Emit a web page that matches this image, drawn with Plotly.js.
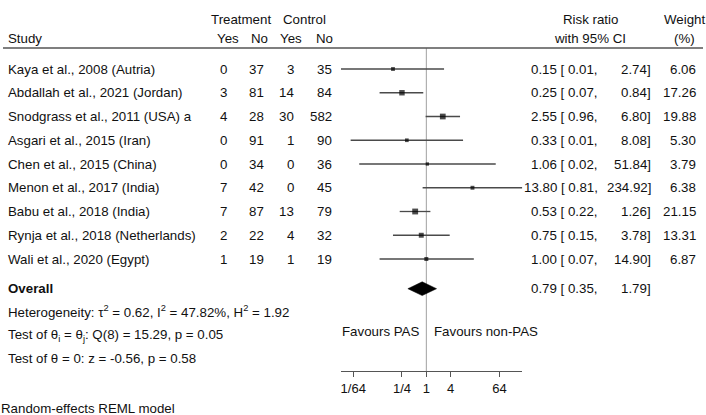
<!DOCTYPE html>
<html><head><meta charset="utf-8">
<script src="https://cdn.plot.ly/plotly-3.0.1.min.js"></script>
<style>html,body{margin:0;padding:0;background:#fff}</style>
</head><body><div id="chart" style="width:706px;height:415px"></div>
<script>
// ---- data ----
const studies = ["Kaya et al., 2008 (Autria)","Abdallah et al., 2021 (Jordan)","Snodgrass et al., 2011 (USA) a","Asgari et al., 2015 (Iran)","Chen et al., 2015 (China)","Menon et al., 2017 (India)","Babu et al., 2018 (India)","Rynja et al., 2018 (Netherlands)","Wali et al., 2020 (Egypt)"];
const tYes = [0,3,4,0,0,7,7,2,1];
const tNo  = [37,81,28,91,34,42,87,22,19];
const cYes = [3,14,30,1,0,0,13,4,1];
const cNo  = [35,84,582,90,36,45,79,32,19];
const rr   = [0.15,0.25,2.55,0.33,1.06,13.80,0.53,0.75,1.00];
const ciLo = [0.0078,0.07,0.96,0.0135,0.022,0.81,0.22,0.15,0.07];
const ciHi = [2.74,0.84,6.80,8.08,51.84,234.92,1.26,3.78,14.90];
const weight = [6.06,17.26,19.88,5.30,3.79,6.38,21.15,13.31,6.87];
const overallRR = 0.79, overallLo = 0.35, overallHi = 1.79;
const tickVals = [1/64,1/4,1,4,64];
const tickText = ["1/64","1/4","1","4","64"];
const hetText = "Heterogeneity: τ<sup>2</sup> = 0.62, I<sup>2</sup> = 47.82%, H<sup>2</sup> = 1.92";
const testQText = "Test of θ<sub>i</sub> = θ<sub>j</sub>: Q(8) = 15.29, p = 0.05";
const testZText = "Test of θ = 0: z = -0.56, p = 0.58";
const modelText = "Random-effects REML model";

// ---- layout helpers ----
const W = 706, H = 415;
const FONT = "Liberation Sans, Arial, sans-serif";
const FS = 13.3;
const TXT = "#111";
const n = studies.length;
const rows = studies.map((_, i) => i + 1);
const overallRow = n + 1.25;
const rowPx0 = 69, rowStep = 23.75, axisPx = 371;
const px2paperY = p => (H - p) / H;
const px2paperX = p => p / W;
const yTop = 1 - rowPx0 / rowStep;
const yBot = 1 + (axisPx - rowPx0) / rowStep;

const ann = [];
function txt(x, y, text, xanchor, yref, extra) {
  ann.push(Object.assign({x: px2paperX(x), xref: 'paper', y: y, yref: yref || 'y', text: text,
    showarrow: false, xanchor: xanchor, yanchor: 'middle',
    font: {family: FONT, size: FS, color: TXT}}, extra || {}));
}
// headers
txt(240.5, px2paperY(19.5), "Treatment", 'center', 'paper');
txt(304.5, px2paperY(19.5), "Control", 'center', 'paper');
txt(590, px2paperY(19.5), "Risk ratio", 'center', 'paper');
txt(684, px2paperY(19.5), "Weight", 'center', 'paper');
txt(6, px2paperY(38.5), "Study", 'left', 'paper');
txt(228, px2paperY(38.5), "Yes", 'center', 'paper');
txt(259.5, px2paperY(38.5), "No", 'center', 'paper');
txt(290.5, px2paperY(38.5), "Yes", 'center', 'paper');
txt(324, px2paperY(38.5), "No", 'center', 'paper');
txt(590, px2paperY(38.5), "with 95% CI", 'center', 'paper');
txt(684, px2paperY(38.5), "(%)", 'center', 'paper');
// study rows
studies.forEach((s, i) => {
  const r = rows[i];
  txt(6, r, s, 'left');
  txt(228.5, r, String(tYes[i]), 'right');
  txt(266, r, String(tNo[i]), 'right');
  txt(296, r, String(cYes[i]), 'right');
  txt(333.5, r, String(cNo[i]), 'right');
  txt(600, r, rr[i].toFixed(2) + " [ " + ciLo[i].toFixed(2) + ",", 'right');
  txt(652.7, r, ciHi[i].toFixed(2) + "]", 'right');
  txt(698.3, r, weight[i].toFixed(2), 'right');
});
// overall
txt(6, overallRow, "<b>Overall</b>", 'left');
txt(600, overallRow, overallRR.toFixed(2) + " [ " + overallLo.toFixed(2) + ",", 'right');
txt(652.7, overallRow, overallHi.toFixed(2) + "]", 'right');
txt(6, overallRow + 0.98, hetText, 'left');
txt(6, overallRow + 1.96, testQText, 'left');
txt(6, overallRow + 2.94, testZText, 'left');
txt(420.7, px2paperY(331.7), "Favours PAS", 'right', 'paper');
txt(431.7, px2paperY(331.7), "Favours non-PAS", 'left', 'paper');
txt(-1, px2paperY(408), modelText, 'left', 'paper');

// CI lines
const ciX = [], ciY = [];
rows.forEach((r, i) => { ciX.push(ciLo[i], ciHi[i], null); ciY.push(r, r, null); });
const halfH = 0.29;
const traces = [
  {type: 'scatter', mode: 'lines', x: ciX, y: ciY, line: {color: '#4a4a4a', width: 1.3}, hoverinfo: 'skip'},
  {type: 'scatter', mode: 'markers', x: rr, y: rows, cliponaxis: false,
   marker: {symbol: 'square', color: '#000', size: weight.map(w => 1.5 + Math.sqrt(w) * 0.95), line: {width: 0}}},
  {type: 'scatter', mode: 'lines', fill: 'toself', fillcolor: '#000',
   x: [overallLo, overallRR, overallHi, overallRR, overallLo],
   y: [overallRow, overallRow - halfH, overallRow, overallRow + halfH, overallRow],
   line: {color: '#000', width: 0.5}}
];

const xMin = Math.log10(Math.min(...ciLo)), xMax = Math.log10(Math.max(...ciHi));
const layout = {
  width: W, height: H, margin: {l: 0, r: 0, t: 0, b: 0},
  paper_bgcolor: '#fff', plot_bgcolor: 'rgba(0,0,0,0)', showlegend: false,
  font: {family: FONT, size: FS, color: TXT},
  xaxis: {type: 'log', range: [xMin, xMax], domain: [px2paperX(341), px2paperX(522.3)],
    showline: true, linecolor: '#555', linewidth: 1, ticks: 'outside', ticklen: 5, tickcolor: '#555', tickwidth: 1,
    tickvals: tickVals, ticktext: tickText, showgrid: false, zeroline: false,
    tickfont: {family: FONT, size: 13, color: TXT}, anchor: 'y', fixedrange: true},
  yaxis: {range: [yBot, yTop], domain: [px2paperY(axisPx), 1], visible: false, fixedrange: true},
  annotations: ann,
  shapes: [
    {type: 'line', xref: 'paper', yref: 'paper', x0: px2paperX(3), x1: px2paperX(703), y0: px2paperY(48), y1: px2paperY(48),
     line: {color: '#555', width: 1.5}},
    {type: 'line', xref: 'x', yref: 'paper', x0: 1, x1: 1, y0: px2paperY(axisPx), y1: px2paperY(48),
     line: {color: '#a0a0a0', width: 1}, layer: 'below'}
  ]
};
Plotly.newPlot('chart', traces, layout, {staticPlot: true});
</script></body></html>
